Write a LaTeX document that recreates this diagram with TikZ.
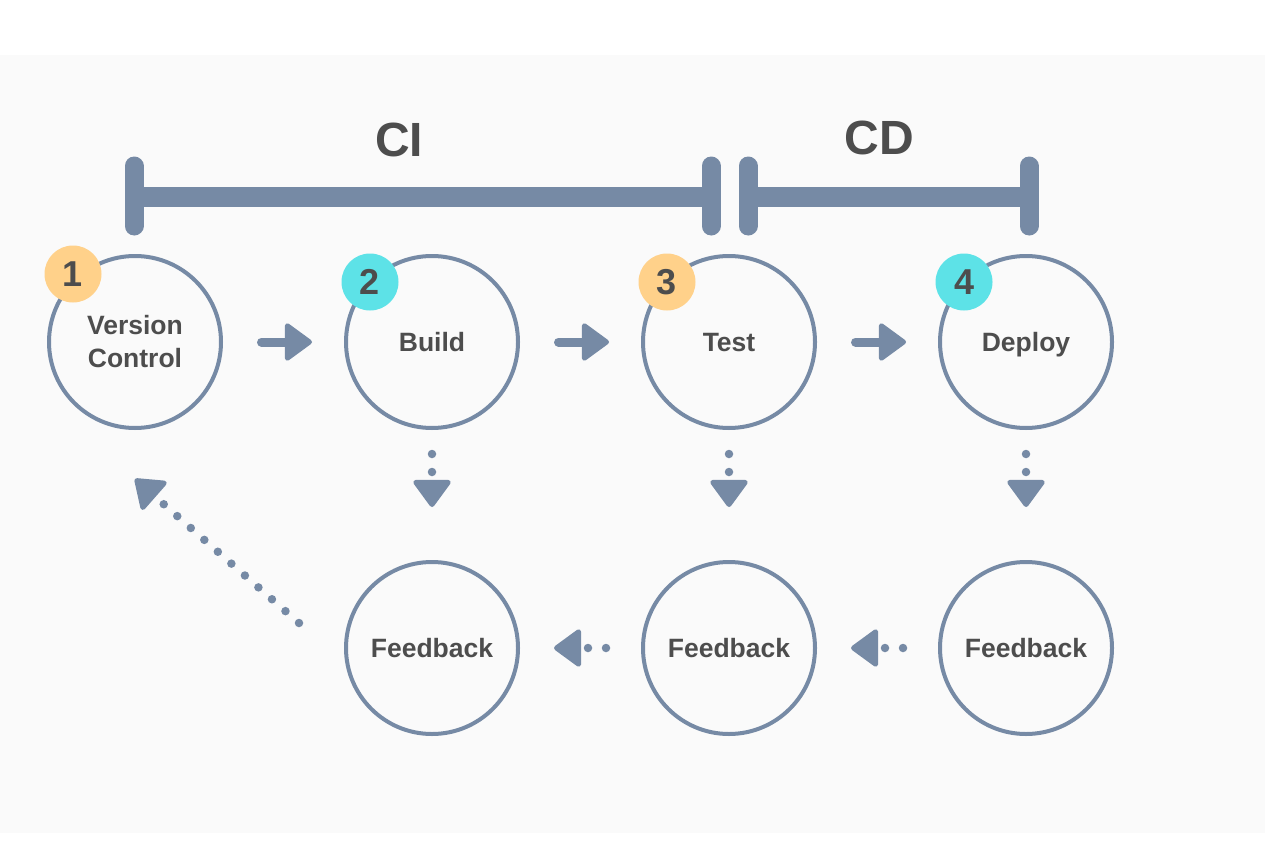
\documentclass[tikz,border=0pt]{standalone}
\usepackage{fontspec}
\setmainfont{Liberation Sans}
\usetikzlibrary{arrows.meta,calc}
\definecolor{slate}{HTML}{768AA5}
\definecolor{txt}{HTML}{4D4D4D}
\definecolor{bg}{HTML}{FAFAFA}
\definecolor{orng}{HTML}{FFD18A}
\definecolor{cyn}{HTML}{5DE2E7}
\begin{document}
\begin{tikzpicture}[x=1pt,y=-1pt,
  stagebase/.style={circle,draw=slate,line width=4pt,minimum size=172pt,inner sep=0pt,
    font=\fontsize{26.5}{33}\selectfont\bfseries,text=txt,align=center},
  stage/.style={stagebase,text height=19pt,text depth=0pt},
  badge/.style={circle,minimum size=57pt,inner sep=0pt,
    font=\fontsize{36}{36}\selectfont\bfseries,text=txt},
  phase/.style={inner sep=0pt,font=\fontsize{48}{48}\selectfont\bfseries,text=txt},
  flow/.style={draw=slate,line width=9pt,line cap=round,
    -{Triangle[length=29pt,width=41pt,round,line width=5pt]}},
  fbflow/.style={draw=slate,line width=8.5pt,line cap=round,dash pattern=on 0pt off 18pt,
    -{Triangle[length=29pt,width=41pt,round,line width=5pt]}},
  barline/.style={draw=slate,line width=20pt,line cap=butt},
  tickline/.style={draw=slate,line width=19pt,line cap=round}
]
\useasboundingbox (0,0) rectangle (1265,848);
\fill[white] (0,0) rectangle (1265,848);
\fill[bg] (0,55) rectangle (1265,833);

% bracket
\coordinate (cil) at (134,197);
\coordinate (cir) at (711,197);
\coordinate (cdl) at (748,197);
\coordinate (cdr) at (1029,197);
\draw[barline] (cil) -- (cir);
\draw[barline] (cdl) -- (cdr);
\foreach \c in {cil,cir,cdl,cdr}{
  \draw[tickline] ($(\c)+(0,-31)$) -- ($(\c)+(0,29)$);
}
\node[phase] (ci) at (399,140) {CI};
\node[phase] (cd) at (879,138) {CD};

% stages
\node[stagebase] (vc) at (135,342) {Version\\Control};
\node[stage] (build) at (432,342) {Build};
\node[stage] (test) at (729,342) {Test};
\node[stage] (deploy) at (1026,342) {Deploy};
\node[stage] (fb1) at (432,648) {Feedback};
\node[stage] (fb2) at (729,648) {Feedback};
\node[stage] (fb3) at (1026,648) {Feedback};

% badges
\node[badge,fill=orng] (b1) at (73,274) {1};
\node[badge,fill=cyn] (b2) at (370,282) {2};
\node[badge,fill=orng] (b3) at (667,282) {3};
\node[badge,fill=cyn] (b4) at (964,282) {4};

% flow arrows
\draw[flow,shorten <=38.5pt,shorten >=32pt] (vc) -- (build);
\draw[flow,shorten <=38.5pt,shorten >=32pt] (build) -- (test);
\draw[flow,shorten <=38.5pt,shorten >=32pt] (test) -- (deploy);

% feedback arrows
\draw[fbflow,shorten <=24pt,shorten >=53pt] (build) -- (fb1);
\draw[fbflow,shorten <=24pt,shorten >=53pt] (test) -- (fb2);
\draw[fbflow,shorten <=24pt,shorten >=53pt] (deploy) -- (fb3);
\draw[fbflow,shorten <=35pt,shorten >=34pt] (fb3) -- (fb2);
\draw[fbflow,shorten <=35pt,shorten >=34pt] (fb2) -- (fb1);
\coordinate (loopstart) at (299,623);
\coordinate (looptip) at (135,479);
\draw[fbflow] (loopstart) -- (looptip);
\end{tikzpicture}
\end{document}
